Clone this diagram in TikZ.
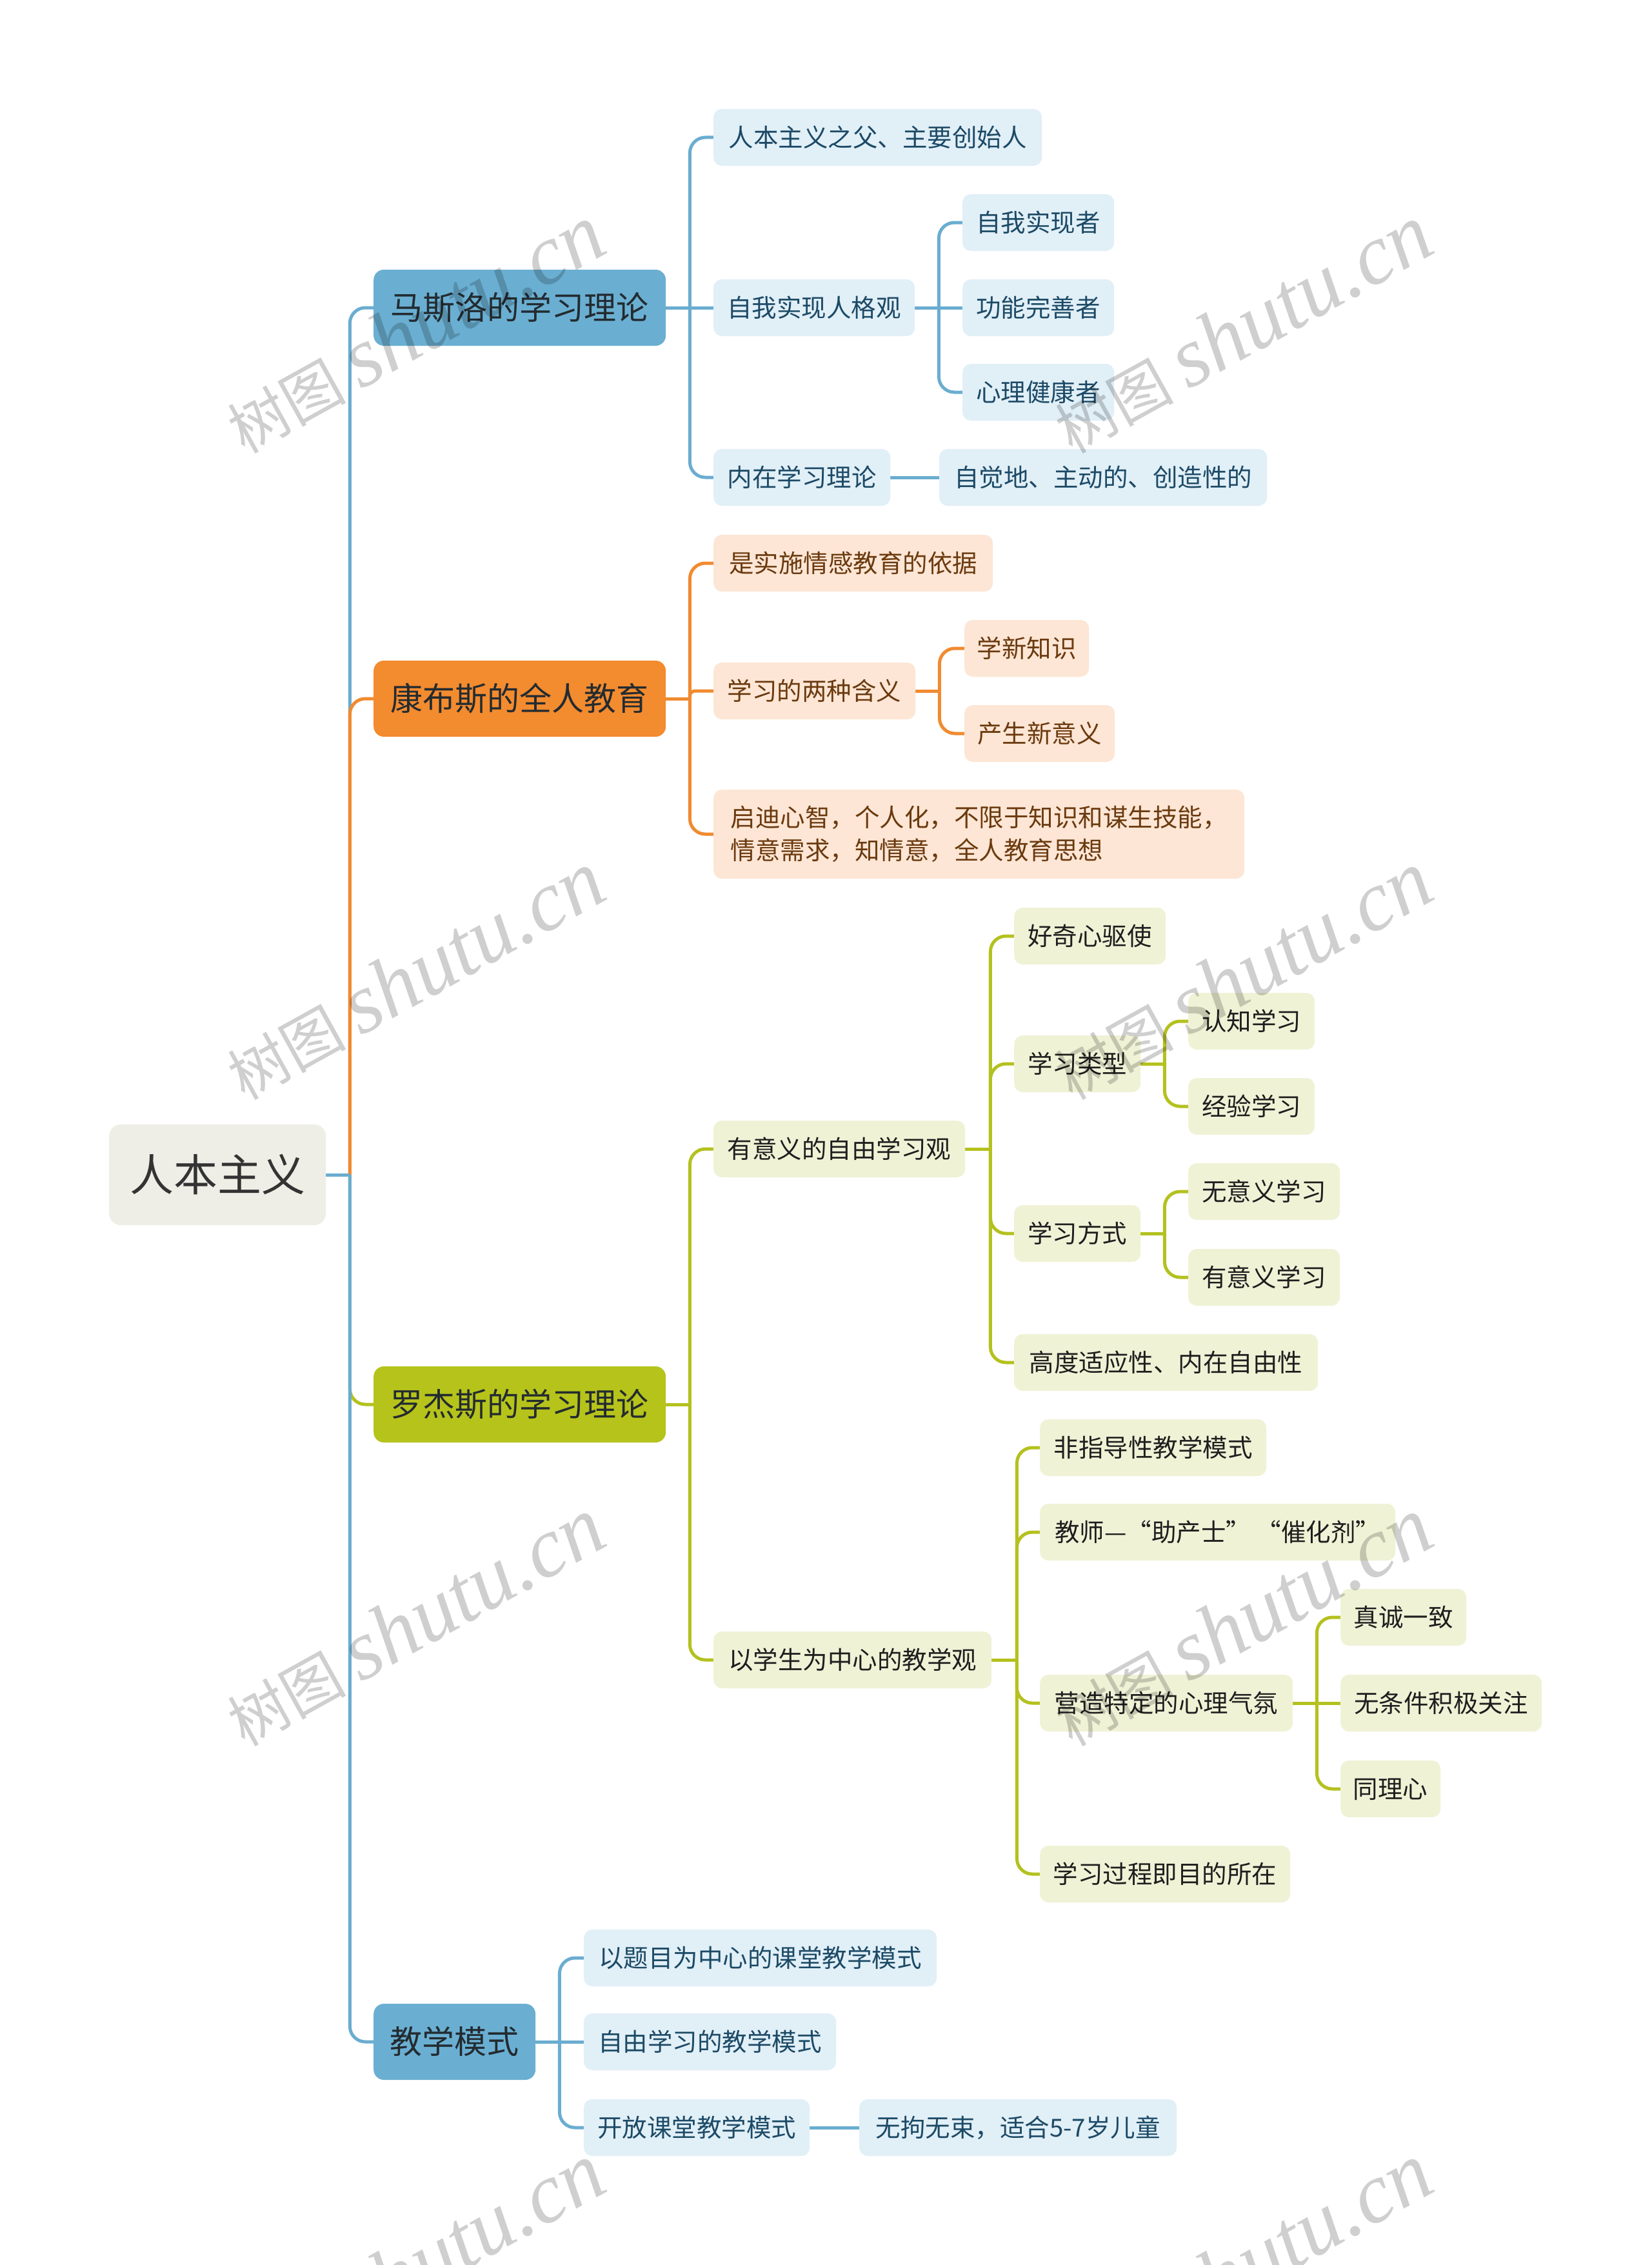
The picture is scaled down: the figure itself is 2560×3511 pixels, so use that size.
\documentclass[tikz,border=0pt]{standalone}
\usepackage{fontspec}
\newfontfamily\cjk{Noto Sans CJK SC}
\newfontfamily\wmfont{Liberation Serif}
\usetikzlibrary{calc}
\pgfdeclarelayer{bg}
\pgfsetlayers{bg,main}
\definecolor{bline}{HTML}{6AADD0}
\definecolor{oline}{HTML}{F18A30}
\definecolor{gline}{HTML}{B4C11E}
\definecolor{bmain}{HTML}{6AAFD2}
\definecolor{omain}{HTML}{F38B2F}
\definecolor{gmain}{HTML}{B6C31B}
\definecolor{bfill}{HTML}{E1EFF7}
\definecolor{ofill}{HTML}{FDE6D5}
\definecolor{gfill}{HTML}{F0F2D6}
\definecolor{btext}{HTML}{1C4A66}
\definecolor{otext}{HTML}{6B3A0F}
\definecolor{gtext}{HTML}{1E1E1E}
\definecolor{rootfill}{HTML}{EEEEE6}
\definecolor{roottext}{HTML}{333333}
\definecolor{mtext}{HTML}{232B30}
\tikzset{
  lvl/.style={rounded corners=13pt, anchor=west, inner xsep=14pt, inner ysep=0pt,
    minimum height=88pt, text height=34pt, text depth=5pt,
    font=\cjk\fontsize{38.5}{46}\selectfont},
  bx/.style={lvl, fill=bfill, text=btext},
  ox/.style={lvl, fill=ofill, text=otext},
  gx/.style={lvl, fill=gfill, text=gtext},
  mainbox/.style={rounded corners=16pt, anchor=west, inner xsep=14pt, inner ysep=0pt,
    minimum height=118pt, text height=44pt, text depth=7pt,
    font=\cjk\fontsize{50}{60}\selectfont, text=mtext},
  rootbox/.style={rounded corners=18pt, anchor=west, inner xsep=20pt, inner ysep=0pt,
    minimum height=156pt, minimum width=336pt, text height=60pt, text depth=9pt,
    font=\cjk\fontsize{68}{80}\selectfont, fill=rootfill, text=roottext},
  bc/.style={line width=5pt, draw=bline},
  oc/.style={line width=5pt, draw=oline},
  gc/.style={line width=5pt, draw=gline},
  bcr/.style={bc, rounded corners=24pt},
  ocr/.style={oc, rounded corners=24pt},
  gcr/.style={gc, rounded corners=24pt},
  wm/.style={rotate=29, inner sep=0pt, text=black, text opacity=0.19}
}
\newcommand{\wmtext}{{\cjk\fontsize{92}{100}\selectfont 树图}\hspace{22pt}{\wmfont\itshape\fontsize{132}{140}\selectfont shutu.cn}}
\begin{document}
\begin{tikzpicture}[x=1pt,y=-1pt]
\useasboundingbox (0,0) rectangle (2560,3511);
\begin{pgfonlayer}{bg}
\fill[white] (0,0) rectangle (2560,3511);
\end{pgfonlayer}

% root and main branches
\node[rootbox] (root) at (169,1821) {人本主义};
\node[mainbox, fill=bmain, minimum width=453pt] (m1) at (579,477) {马斯洛的学习理论};
\node[mainbox, fill=omain, minimum width=453pt] (m2) at (579,1083) {康布斯的全人教育};
\node[mainbox, fill=gmain, minimum width=453pt] (m3) at (579,2177) {罗杰斯的学习理论};
\node[mainbox, fill=bmain, minimum width=251pt] (m4) at (579,3165) {教学模式};

% Maslow
\node[bx, minimum width=509pt] (a1) at (1106,213) {人本主义之父、主要创始人};
\node[bx, minimum width=312pt] (a2) at (1106,477) {自我实现人格观};
\node[bx, minimum width=235pt] (a21) at (1492,345) {自我实现者};
\node[bx, minimum width=235pt] (a22) at (1492,477) {功能完善者};
\node[bx, minimum width=235pt] (a23) at (1492,608) {心理健康者};
\node[bx, minimum width=274pt] (a3) at (1106,740) {内在学习理论};
\node[bx, minimum width=508pt] (a31) at (1456,740) {自觉地、主动的、创造性的};

% Combs
\node[ox, minimum width=433pt] (b1) at (1106,873) {是实施情感教育的依据};
\node[ox, minimum width=313pt] (b2) at (1106,1071) {学习的两种含义};
\node[ox, minimum width=193pt] (b21) at (1495,1005) {学新知识};
\node[ox, minimum width=233pt] (b22) at (1495,1137) {产生新意义};
\node[ox, minimum width=823pt, minimum height=138pt, text height=, text depth=, align=left,
  font=\cjk\fontsize{38.5}{51}\selectfont] (b3) at (1106,1293)
  {启迪心智，个人化，不限于知识和谋生技能，\\情意需求，知情意，全人教育思想};

% Rogers
\node[gx, minimum width=390pt] (c1) at (1106,1781) {有意义的自由学习观};
\node[gx, minimum width=235pt] (c11) at (1572,1451) {好奇心驱使};
\node[gx, minimum width=196pt] (c12) at (1572,1649) {学习类型};
\node[gx, minimum width=196pt] (c121) at (1842,1583) {认知学习};
\node[gx, minimum width=196pt] (c122) at (1842,1715) {经验学习};
\node[gx, minimum width=196pt] (c13) at (1572,1912) {学习方式};
\node[gx, minimum width=235pt] (c131) at (1842,1847) {无意义学习};
\node[gx, minimum width=235pt] (c132) at (1842,1980) {有意义学习};
\node[gx, minimum width=471pt] (c14) at (1572,2112) {高度适应性、内在自由性};
\node[gx, minimum width=431pt] (c2) at (1106,2573) {以学生为中心的教学观};
\node[gx, minimum width=351pt] (c21) at (1612,2244) {非指导性教学模式};
\node[gx, minimum width=551pt] (c22) at (1612,2375) {教师—“助产士” “催化剂”};
\node[gx, minimum width=392pt] (c23) at (1612,2640) {营造特定的心理气氛};
\node[gx, minimum width=195pt] (c231) at (2078,2507) {真诚一致};
\node[gx, minimum width=312pt] (c232) at (2078,2640) {无条件积极关注};
\node[gx, minimum width=155pt] (c233) at (2078,2773) {同理心};
\node[gx, minimum width=388pt] (c24) at (1612,2905) {学习过程即目的所在};

% Teaching modes
\node[bx, minimum width=547pt] (d1) at (905,3035) {以题目为中心的课堂教学模式};
\node[bx, minimum width=391pt] (d2) at (905,3165) {自由学习的教学模式};
\node[bx, minimum width=350pt] (d3) at (905,3298) {开放课堂教学模式};
\node[bx, minimum width=492pt] (d31) at (1332,3298) {无拘无束，适合5-7岁儿童};

% junctions
\coordinate (rj) at ($(root.east)+(37,0)$);
\coordinate (m1j) at ($(m1.east)+(37,0)$);
\coordinate (m2j) at ($(m2.east)+(37,0)$);
\coordinate (m3j) at ($(m3.east)+(37,0)$);
\coordinate (m4j) at ($(m4.east)+(37,0)$);
\coordinate (a2j) at ($(a2.east)+(37,0)$);
\coordinate (b2j) at ($(b2.east)+(37,0)$);
\coordinate (c1j) at ($(c1.east)+(39,0)$);
\coordinate (c12j) at ($(c12.east)+(37,0)$);
\coordinate (c13j) at ($(c13.east)+(37,0)$);
\coordinate (c2j) at ($(c2.east)+(39,0)$);
\coordinate (c23j) at ($(c23.east)+(37,0)$);

\begin{pgfonlayer}{bg}
% trunk
\draw[bcr] (rj) |- (m1.west);
\draw[ocr] (rj) |- (m2.west);
\draw[gcr] (rj) |- (m3.west);
\draw[bcr] (rj) |- (m4.west);
\draw[bc] (root.east) -- (rj);
% Maslow
\draw[bc] (m1.east) -- (m1j);
\draw[bcr] (m1j) |- (a1.west);
\draw[bc] (m1j) -- (a2.west);
\draw[bcr] (m1j) |- (a3.west);
\draw[bc] (a2.east) -- (a2j);
\draw[bcr] (a2j) |- (a21.west);
\draw[bc] (a2j) -- (a22.west);
\draw[bcr] (a2j) |- (a23.west);
\draw[bc] (a3.east) -- (a31.west);
% Combs
\draw[oc] (m2.east) -- (m2j);
\draw[ocr] (m2j) |- (b1.west);
\draw[oc, rounded corners=8pt] (m2j) |- (b2.west);
\draw[ocr] (m2j) |- (b3.west);
\draw[oc] (b2.east) -- (b2j);
\draw[ocr] (b2j) |- (b21.west);
\draw[ocr] (b2j) |- (b22.west);
% Rogers
\draw[gc] (m3.east) -- (m3j);
\draw[gcr] (m3j) |- (c1.west);
\draw[gcr] (m3j) |- (c2.west);
\draw[gc] (c1.east) -- (c1j);
\draw[gcr] (c1j) |- (c11.west);
\draw[gcr] (c1j) |- (c12.west);
\draw[gcr] (c1j) |- (c13.west);
\draw[gcr] (c1j) |- (c14.west);
\draw[gc] (c12.east) -- (c12j);
\draw[gcr] (c12j) |- (c121.west);
\draw[gcr] (c12j) |- (c122.west);
\draw[gc] (c13.east) -- (c13j);
\draw[gcr] (c13j) |- (c131.west);
\draw[gcr] (c13j) |- (c132.west);
\draw[gc] (c2.east) -- (c2j);
\draw[gcr] (c2j) |- (c21.west);
\draw[gcr] (c2j) |- (c22.west);
\draw[gcr] (c2j) |- (c23.west);
\draw[gcr] (c2j) |- (c24.west);
\draw[gc] (c23.east) -- (c23j);
\draw[gcr] (c23j) |- (c231.west);
\draw[gc] (c23j) -- (c232.west);
\draw[gcr] (c23j) |- (c233.west);
% Teaching modes
\draw[bc] (m4.east) -- (m4j);
\draw[bcr] (m4j) |- (d1.west);
\draw[bc] (m4j) -- (d2.west);
\draw[bcr] (m4j) |- (d3.west);
\draw[bc] (d3.east) -- (d31.west);
\end{pgfonlayer}

% watermarks
\node[wm] (w1) at (643,510) {\wmtext};
\node[wm] (w2) at (1926,510) {\wmtext};
\node[wm] (w3) at (643,1512) {\wmtext};
\node[wm] (w4) at (1926,1512) {\wmtext};
\node[wm] (w5) at (643,2514) {\wmtext};
\node[wm] (w6) at (1926,2514) {\wmtext};
\node[wm] (w7) at (643,3515) {\wmtext};
\node[wm] (w8) at (1926,3515) {\wmtext};
\end{tikzpicture}
\end{document}
